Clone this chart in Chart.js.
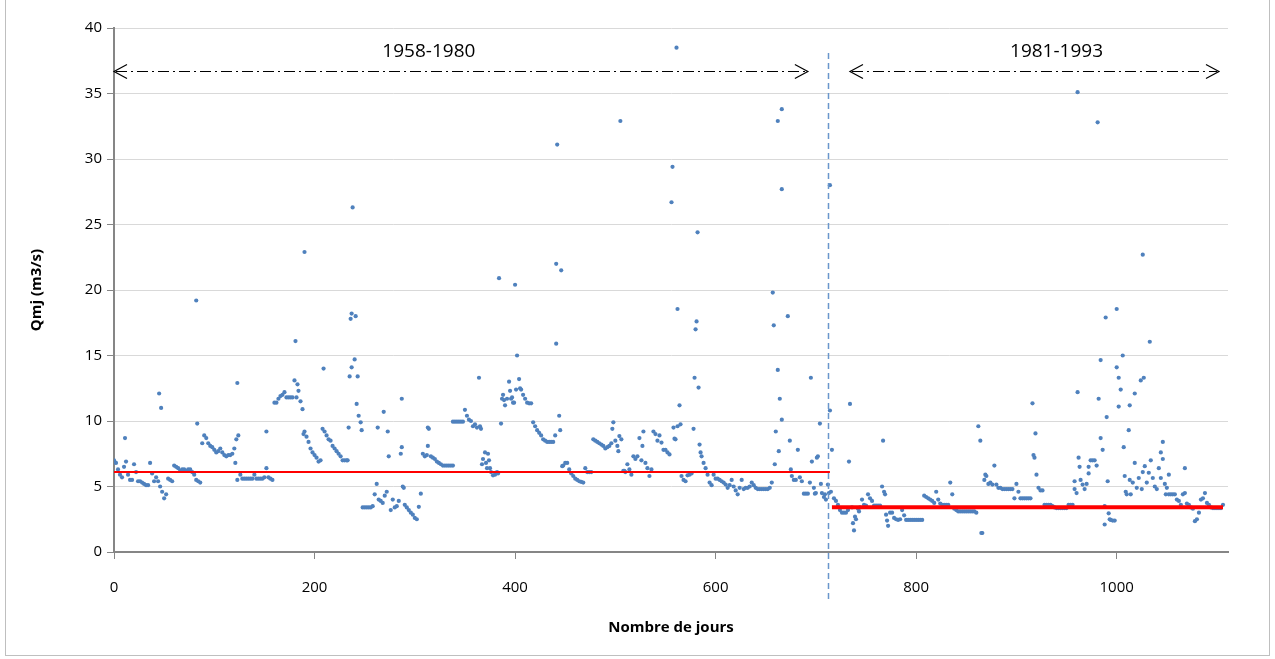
<!DOCTYPE html>
<html>
<head>
    <meta charset="UTF-8" />
    <title>Qmj - Nombre de jours</title>
    <script src="https://cdn.jsdelivr.net/npm/chart.js@4.4.9/dist/chart.umd.min.js"></script>
    <style>
        body { margin: 0; background: #fff; }
        #wrap { width: 1275px; height: 659px; }
    </style>
</head>
<body>
<div id="wrap"><canvas id="chart" width="1275" height="659"></canvas></div>
<script>
    // daily flow (m3/s), one value every 2 days
    const dayStep = 2;
    const qmj = [
        7.0, 6.8, 6.3, 5.9, 5.7, 6.5, 6.9, 5.9, 5.5, 5.5,
        6.7, 6.1, 5.4, 5.4, 5.3, 5.2, 5.1, 5.1, 6.8, 6.0,
        5.4, 5.7, 5.4, 5.0, 4.6, 4.1, 4.4, 5.6, 5.5, 5.4,
        6.6, 6.5, 6.4, 6.2, 6.3, 6.3, 6.2, 6.3, 6.3, 6.1,
        5.9, 5.5, 5.4, 5.3, 8.3, 8.9, 8.7, 8.3, 8.1, 8.0,
        7.8, 7.6, 7.7, 7.9, 7.6, 7.4, 7.3, 7.4, 7.4, 7.5,
        7.9, 8.6, 8.9, 5.9, 5.6, 5.6, 5.6, 5.6, 5.6, 5.6,
        5.9, 5.6, 5.6, 5.6, 5.6, 5.7, 6.4, 5.7, 5.6, 5.5,
        11.4, 11.4, 11.7, 11.9, 12.0, 12.2, 11.8, 11.8, 11.8, 11.8,
        13.1, 11.8, 12.3, 11.5, 10.9, 9.2, 8.8, 8.4, 7.9, 7.6,
        7.4, 7.2, 6.9, 7.0, 9.4, 9.2, 8.9, 8.6, 8.5, 8.1,
        7.9, 7.7, 7.5, 7.3, 7.0, 7.0, 7.0, 9.5, 17.8, 26.3,
        14.7, 11.3, 10.4, 9.9, 3.4, 3.4, 3.4, 3.4, 3.4, 3.5,
        4.4, 5.2, 4.0, 3.9, 3.75, 4.3, 4.6, 7.3, 3.2, 4.0,
        3.4, 3.5, 3.9, 7.5, 5.0, 3.6, 3.4, 3.2, 3.0, 2.85,
        2.6, 2.5, 3.45, 4.45, 7.5, 7.3, 7.4, 9.4, 7.3, 7.2,
        7.1, 6.9, 6.8, 6.7, 6.6, 6.6, 6.6, 6.6, 6.6, 9.95,
        9.95, 9.95, 9.95, 9.95, 9.95, 10.85, 10.4, 10.1, 10.0, 9.6,
        9.75, 9.5, 13.3, 9.4, 7.1, 7.6, 6.4, 7.0, 6.1, 5.85,
        5.9, 6.1, 20.9, 9.8, 12.0, 11.2, 11.7, 13.0, 11.7, 11.4,
        20.4, 15.0, 13.2, 12.4, 12.0, 11.7, 11.4, 11.35, 11.35, 9.9,
        9.6, 9.3, 9.1, 8.9, 8.6, 8.5, 8.4, 8.4, 8.4, 8.4,
        8.9, 31.1, 10.4, 21.5, 6.6, 6.8, 6.8, 6.3, 6.0, 5.8,
        5.6, 5.5, 5.4, 5.35, 5.3, 6.4, 6.1, 6.1, 6.1, 8.6,
        8.5, 8.4, 8.3, 8.2, 8.1, 7.9, 8.0, 8.1, 8.3, 9.9,
        8.5, 8.1, 8.85, 8.6, 6.2, 6.1, 6.7, 6.3, 5.9, 7.3,
        7.1, 7.3, 8.7, 7.0, 9.2, 6.8, 6.4, 5.8, 6.3, 9.2,
        9.0, 8.5, 8.9, 8.35, 7.8, 7.8, 7.6, 7.45, 26.7, 9.5,
        8.6, 18.55, 11.2, 5.8, 5.5, 5.4, 5.85, 5.9, 6.0, 9.4,
        17.0, 24.4, 8.2, 7.3, 6.8, 6.4, 5.9, 5.3, 5.1, 5.9,
        5.6, 5.6, 5.5, 5.4, 5.3, 5.15, 4.9, 5.1, 5.5, 5.0,
        4.7, 4.4, 4.9, 5.5, 4.8, 4.9, 4.9, 5.0, 5.3, 5.1,
        4.9, 4.8, 4.8, 4.8, 4.8, 4.8, 4.8, 4.9, 5.3, 17.3,
        9.2, 13.9, 11.7, 10.1, null, null, 18.0, 8.5, 5.8, 5.5,
        5.5, 7.8, 5.7, 5.4, 4.45, 4.45, 4.45, 5.3, 6.9, 4.9,
        4.5, 7.3, 9.8, 4.5, 4.2, 4.0, 5.15, 10.8, 7.8, 4.1,
        3.9, 3.6, 3.2, 3.0, 3.0, 3.0, 3.2, 11.3, 3.4, 1.65,
        2.5, 3.3, 3.4, 4.0, 3.6, 3.55, 4.4, 4.1, 3.9, 3.55,
        3.55, 3.55, 3.55, 5.0, 4.6, 2.85, 2.0, 3.0, 3.0, 2.6,
        2.5, 2.45, 2.5, 3.2, 2.8, 2.45, 2.45, 2.45, 2.45, 2.45,
        2.45, 2.45, 2.45, 2.45, 4.3, 4.2, 4.1, 4.0, 3.9, 3.75,
        4.6, 4.0, 3.7, 3.6, 3.6, 3.6, 3.6, 5.3, 4.4, 3.3,
        3.2, 3.1, 3.1, 3.1, 3.1, 3.1, 3.1, 3.1, 3.1, 3.1,
        3.0, 9.6, 8.5, 1.45, 5.5, 5.8, 5.2, 5.3, 5.15, 6.6,
        5.15, 4.9, 4.9, 4.8, 4.8, 4.8, 4.8, 4.8, 4.8, 4.1,
        5.2, 4.6, 4.1, 4.1, 4.1, 4.1, 4.1, 4.1, 11.35, 7.2,
        5.9, 4.9, 4.7, 4.7, 3.6, 3.6, 3.6, 3.6, 3.5, 3.4,
        3.35, 3.35, 3.35, 3.35, 3.35, 3.35, 3.6, 3.6, 3.6, 5.4,
        4.5, 7.2, 5.5, 5.15, 4.8, 5.2, 6.0, 7.0, 7.0, 7.0,
        6.6, 11.7, 14.65, 7.8, 2.1, 10.3, 2.95, 2.45, 2.4, 2.4,
        14.1, 13.3, 12.4, 15.0, 5.8, 4.4, 9.3, 4.4, 5.3, 12.1,
        4.9, 5.65, 13.1, 22.7, 6.55, 5.3, 6.05, 7.0, 5.65, 5.0,
        4.8, 6.4, 7.6, 8.4, 5.2, 4.9, 5.9, 4.4, 4.4, 4.4,
        4.0, 3.9, 3.6, 4.4, 6.4, 3.7, 3.6, 3.4, 3.3, 2.35,
        2.5, 3.0, 4.0, 4.1, 4.5, 3.75, 3.6, 3.4, 3.35, 3.35,
        3.35, 3.35, 3.35, 3.6
    ];

    // extra days that sit on top of the band (floods etc.)
    const peakDays = [11, 45, 47, 82, 83, 121, 123, 123, 152, 181, 183, 189, 190, 209, 233, 235, 237, 237, 241, 243,
        247, 263, 269, 273, 287, 287, 289, 313, 313, 338, 365, 367, 371, 373, 375, 383, 387, 389, 395, 397,
        399, 401, 405, 441, 441, 445, 447, 497, 503, 505, 509, 527, 557, 559, 561, 562, 565, 579, 581, 583,
        585, 657, 659, 662, 663, 666, 666, 675, 695, 699, 701, 705, 709, 713, 714, 715, 733, 737, 739, 743,
        767, 769, 771, 865, 869, 917, 919, 958, 961, 961, 963, 972, 981, 984, 988, 989, 991, 993, 1000, 1002,
        1007, 1009, 1013, 1013, 1018, 1025, 1026, 1027, 1033, 1044, 1046, 1049, 1052, 1068];
    const peakQ = [8.7, 12.1, 11.0, 19.2, 9.8, 6.8, 12.9, 5.5, 9.2, 16.1, 12.8, 9.0, 22.9, 14.0, 7.0, 13.4, 14.1, 18.2, 18.0, 13.4,
        9.3, 9.5, 10.7, 9.2, 11.7, 8.0, 4.9, 9.5, 8.1, 6.6, 9.6, 6.7, 6.8, 7.5, 6.4, 6.0, 11.7, 11.6, 12.3, 11.8,
        11.4, 12.4, 12.5, 22.0, 15.9, 9.3, 6.55, 9.4, 7.7, 32.9, 6.2, 8.1, 29.4, 8.65, 38.5, 9.6, 9.75, 13.3, 17.6, 12.55,
        7.6, 19.8, 6.7, 32.9, 7.7, 33.8, 27.7, 6.3, 13.3, 4.45, 7.2, 5.2, 4.4, 4.5, 28.0, 4.6, 6.9, 2.2, 2.7, 3.1,
        8.5, 4.4, 2.4, 1.45, 5.9, 7.4, 9.05, 4.8, 35.1, 12.2, 6.5, 6.5, 32.8, 8.7, 3.5, 17.9, 5.4, 2.5, 18.55, 11.1,
        8.0, 4.6, 11.2, 5.5, 6.8, 4.8, 6.1, 13.3, 16.05, 5.65, 7.1, 4.4, 4.4, 4.5];

    // period means (red lines)
    const meanQ = [6.1, 3.42];
    const meanFrom = [0, 716];
    const meanTo = [714, 1106];

    // periods shown by the arrows
    const periodNames = ['1958-1980', '1981-1993'];
    const periodFrom = [0, 734];
    const periodTo = [692, 1102];
    const splitDay = 712;

    const xTicks = [0, 200, 400, 600, 800, 1000];

    // where the arrows / labels sit
    const deco = { arrowQ: 36.75, labelQ: 38.2, labelDay: [314, 940], splitTopQ: 38.1 };

    let points = [];
    qmj.forEach((q, i) => {
        if (q !== null) points.push({ x: i * dayStep, y: q });
    });
    peakDays.forEach((d, i) => points.push({ x: d, y: peakQ[i] }));

    const axisGrey = '#868686';
    const tickFont = { family: "'Open Sans'", size: 15 };

    const decorPlugin = {
        id: 'decor',
        beforeDraw(chart) {
            const ctx = chart.ctx;
            ctx.save();
            ctx.fillStyle = '#fff';
            ctx.fillRect(0, 0, chart.width, chart.height);
            ctx.strokeStyle = '#bfbfbf';
            ctx.lineWidth = 1;
            ctx.strokeRect(5.5, -1, 1264, 656.5);
            ctx.restore();
        },
        afterDatasetsDraw(chart) {
            const ctx = chart.ctx;
            const xs = chart.scales.x, ys = chart.scales.y;
            ctx.save();

            // split between the two periods
            const sx = Math.round(xs.getPixelForValue(splitDay)) + 0.5;
            ctx.strokeStyle = '#6a96cc';
            ctx.lineWidth = 1.5;
            ctx.setLineDash([6, 4]);
            ctx.beginPath();
            ctx.moveTo(sx, ys.getPixelForValue(deco.splitTopQ));
            ctx.lineTo(sx, chart.chartArea.bottom + 48);
            ctx.stroke();

            // double arrows
            const ay = Math.round(ys.getPixelForValue(deco.arrowQ)) + 0.5;
            ctx.strokeStyle = '#000';
            ctx.lineWidth = 1.2;
            periodNames.forEach((name, i) => {
                const x0 = xs.getPixelForValue(periodFrom[i]);
                const x1 = xs.getPixelForValue(periodTo[i]);
                ctx.setLineDash([11, 4, 2, 4]);
                ctx.beginPath();
                ctx.moveTo(x0 + 2, ay);
                ctx.lineTo(x1 - 2, ay);
                ctx.stroke();
                ctx.setLineDash([]);
                ctx.beginPath();
                ctx.moveTo(x0 + 13, ay - 7);
                ctx.lineTo(x0, ay);
                ctx.lineTo(x0 + 13, ay + 7);
                ctx.moveTo(x1 - 13, ay - 7);
                ctx.lineTo(x1, ay);
                ctx.lineTo(x1 - 13, ay + 7);
                ctx.stroke();

                ctx.fillStyle = '#000';
                ctx.font = "19px 'Open Sans'";
                ctx.textAlign = 'center';
                ctx.textBaseline = 'middle';
                ctx.fillText(name, xs.getPixelForValue(deco.labelDay[i]), ys.getPixelForValue(deco.labelQ));
            });
            ctx.restore();
        }
    };

    let chart = new Chart(
        document.getElementById('chart'),
        {
            type: 'scatter',
            data: {
                datasets: [
                    {
                        label: 'Qmj',
                        data: points,
                        pointRadius: 2.1,
                        pointHoverRadius: 2.1,
                        pointBackgroundColor: '#4F81BD',
                        pointBorderWidth: 0,
                        order: 2
                    },
                    {
                        type: 'line',
                        label: 'Moyenne 1958-1980',
                        data: [{ x: meanFrom[0], y: meanQ[0] }, { x: meanTo[0], y: meanQ[0] }],
                        borderColor: '#FF0000',
                        borderWidth: 2,
                        pointRadius: 0,
                        order: 1
                    },
                    {
                        type: 'line',
                        label: 'Moyenne 1981-1993',
                        data: [{ x: meanFrom[1], y: meanQ[1] }, { x: meanTo[1], y: meanQ[1] }],
                        borderColor: '#FF0000',
                        borderWidth: 4,
                        pointRadius: 0,
                        order: 1
                    }
                ]
            },
            options: {
                responsive: false,
                animation: false,
                devicePixelRatio: 1,
                layout: { padding: { top: 28, right: 47, left: 0, bottom: 0 } },
                plugins: { legend: { display: false }, tooltip: { enabled: false } },
                scales: {
                    x: {
                        type: 'linear',
                        min: 0,
                        max: 1111,
                        afterBuildTicks: s => { s.ticks = xTicks.map(v => ({ value: v })); },
                        afterFit: s => { s.height = 107; },
                        grid: { drawOnChartArea: false, tickLength: 7, tickColor: axisGrey },
                        border: { color: axisGrey, width: 2 },
                        ticks: { padding: 20, color: '#000', font: tickFont, maxRotation: 0, callback: v => String(v) },
                        title: {
                            display: true,
                            text: 'Nombre de jours',
                            color: '#000',
                            font: { family: "'Open Sans'", size: 15, weight: 'bold' },
                            padding: { bottom: 22 }
                        }
                    },
                    y: {
                        min: 0,
                        max: 40,
                        afterFit: s => { s.width = 114; },
                        grid: { color: '#d9d9d9', lineWidth: 1, tickLength: 7, tickColor: axisGrey },
                        border: { color: axisGrey, width: 2 },
                        ticks: { stepSize: 5, padding: 5, color: '#000', font: tickFont },
                        title: {
                            display: true,
                            text: 'Qmj (m3/s)',
                            color: '#000',
                            font: { family: "'Open Sans'", size: 15, weight: 'bold' },
                            padding: { top: 28 }
                        }
                    }
                }
            },
            plugins: [decorPlugin]
        }
    );
</script>
</body>
</html>
